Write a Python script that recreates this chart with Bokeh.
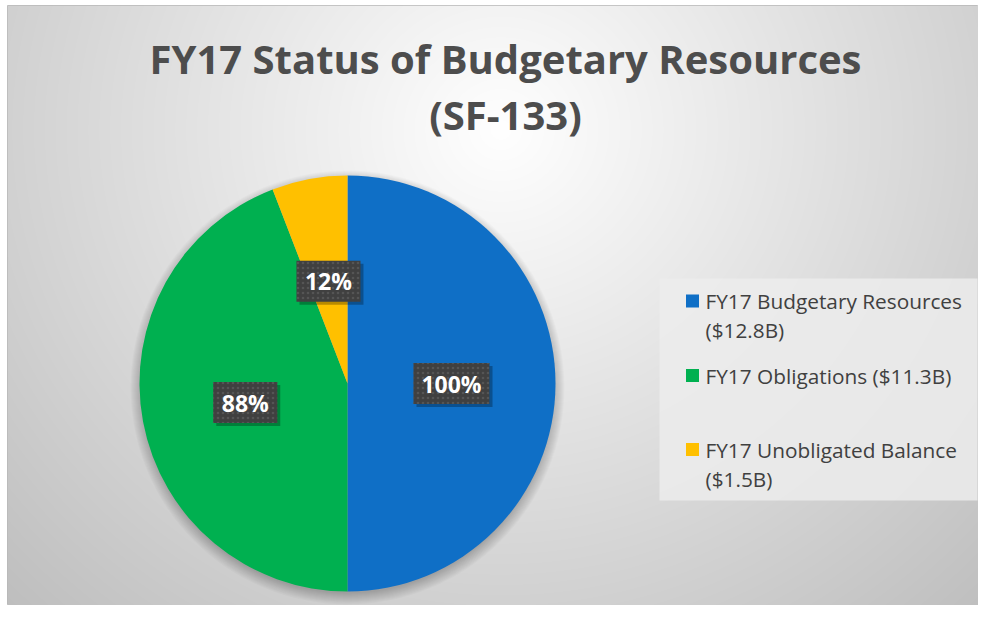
import numpy as np
from bokeh.plotting import figure
from bokeh.models import Range1d, ColumnDataSource
from bokeh.core.properties import value
from bokeh.embed import file_html
from bokeh.resources import INLINE

# ---- data ----
title_lines = ["FY17 Status of Budgetary Resources", "(SF-133)"]
categories = ["FY17 Budgetary Resources", "FY17 Obligations", "FY17 Unobligated Balance"]
amounts_b = [12.8, 11.3, 1.5]
colors = ["#0F6FC6", "#00B050", "#FFC000"]

W, H = 978, 605
L, T = 7, 5
p = figure(width=W, height=H, x_range=Range1d(L, W), y_range=Range1d(0, H - T),
           output_backend="svg", toolbar_location=None,
           x_axis_type=None, y_axis_type=None,
           min_border_left=L, min_border_top=T, min_border_right=0, min_border_bottom=0)
p.grid.visible = False
p.outline_line_color = "#b8b8b8"
p.background_fill_color = None
p.border_fill_color = "white"

def Y(yr):
    return H - yr

# ---- radial gradient background ----
FW, FH = W - L, H - T
yy, xx = np.mgrid[0:FH, 0:FW]
xx = xx + L
gcx, gcy = 500, Y(130)
d = np.hypot(xx - gcx, (yy - gcy) * 1.05)
v = np.clip(255 - 0.092 * d, 188, 255).astype(np.uint32)
img = (np.uint32(255) << 24) | (v << 16) | (v << 8) | v
p.image_rgba(image=[img.astype(np.uint32)], x=L, y=0, dw=FW, dh=FH)

# ---- title ----
p.text(x=[505, 505], y=[Y(57.5), Y(114)], text=title_lines, text_align="center",
       text_baseline="middle", text_font=value("Open Sans"), text_font_style="bold",
       text_font_size="40px", text_color="#4d4d4d")

# ---- pie ----
total = sum(amounts_b)
fr = np.array(amounts_b) / total
cum = np.concatenate([[0], np.cumsum(fr)])
start = np.pi / 2 - cum[:-1] * 2 * np.pi
end = np.pi / 2 - cum[1:] * 2 * np.pi
CX, CY, R = 347, Y(383), 208

for i in range(12):
    p.circle(x=CX, y=CY - 4, radius=R - 2 + i, fill_color="black", fill_alpha=0.02,
             line_color=None)

src = ColumnDataSource(dict(start=start, end=end, color=colors))
p.wedge(x=CX, y=CY, radius=R, start_angle="start", end_angle="end", direction="clock",
        fill_color="color", line_color=None, source=src)

# ---- data labels ----
pcts = ["%d%%" % round(a / amounts_b[0] * 100) for a in amounts_b]
mid = (start + end) / 2
lx = CX + 0.5 * R * np.cos(mid)
ly = CY + 0.5 * R * np.sin(mid)
bw = [12 * len(t) + 28 for t in pcts]
lsrc = ColumnDataSource(dict(x=lx, y=ly, sx=lx + 3, sy=ly - 3, w=bw, t=pcts))
p.rect(x="sx", y="sy", width="w", height=41, fill_color="black", fill_alpha=0.28,
       line_color=None, source=lsrc)
p.rect(x="x", y="y", width="w", height=41, fill_color="#404040", line_color=None,
       hatch_pattern="dot", hatch_color="#555555", hatch_scale=5, hatch_weight=1,
       source=lsrc)
p.text(x="x", y="y", text="t", text_align="center", text_baseline="middle",
       text_font=value("Open Sans"), text_font_style="bold", text_font_size="23px",
       text_color="white", source=lsrc)

# ---- legend ----
p.rect(x=[(659 + 977) / 2], y=[Y(389)], width=[977 - 659], height=[222],
       fill_color="#ececec", fill_alpha=0.85, line_color=None)
entry_y = [300.5, 375, 449]
labels = ["%s ($%sB)" % (c, a) for c, a in zip(categories, amounts_b)]
sq_x, sq_y, tx, ty, tt = [], [], [], [], []
for lab, c, ey in zip(labels, categories, entry_y):
    sq_x.append(692)
    sq_y.append(Y(ey))
    if len(lab) > 25:
        lines = [c, lab[len(c) + 1:]]
    else:
        lines = [lab]
    for k, ln in enumerate(lines):
        tx.append(705)
        ty.append(Y(ey + 29 * k))
        tt.append(ln)
p.rect(x=sq_x, y=sq_y, width=13, height=13, fill_color=colors, line_color=None)
p.text(x=tx, y=ty, text=tt, text_align="left", text_baseline="middle",
       text_font=value("Open Sans"), text_font_size="20.8px", text_color="#404040")

open("out.html", "w").write(file_html(p, INLINE))
